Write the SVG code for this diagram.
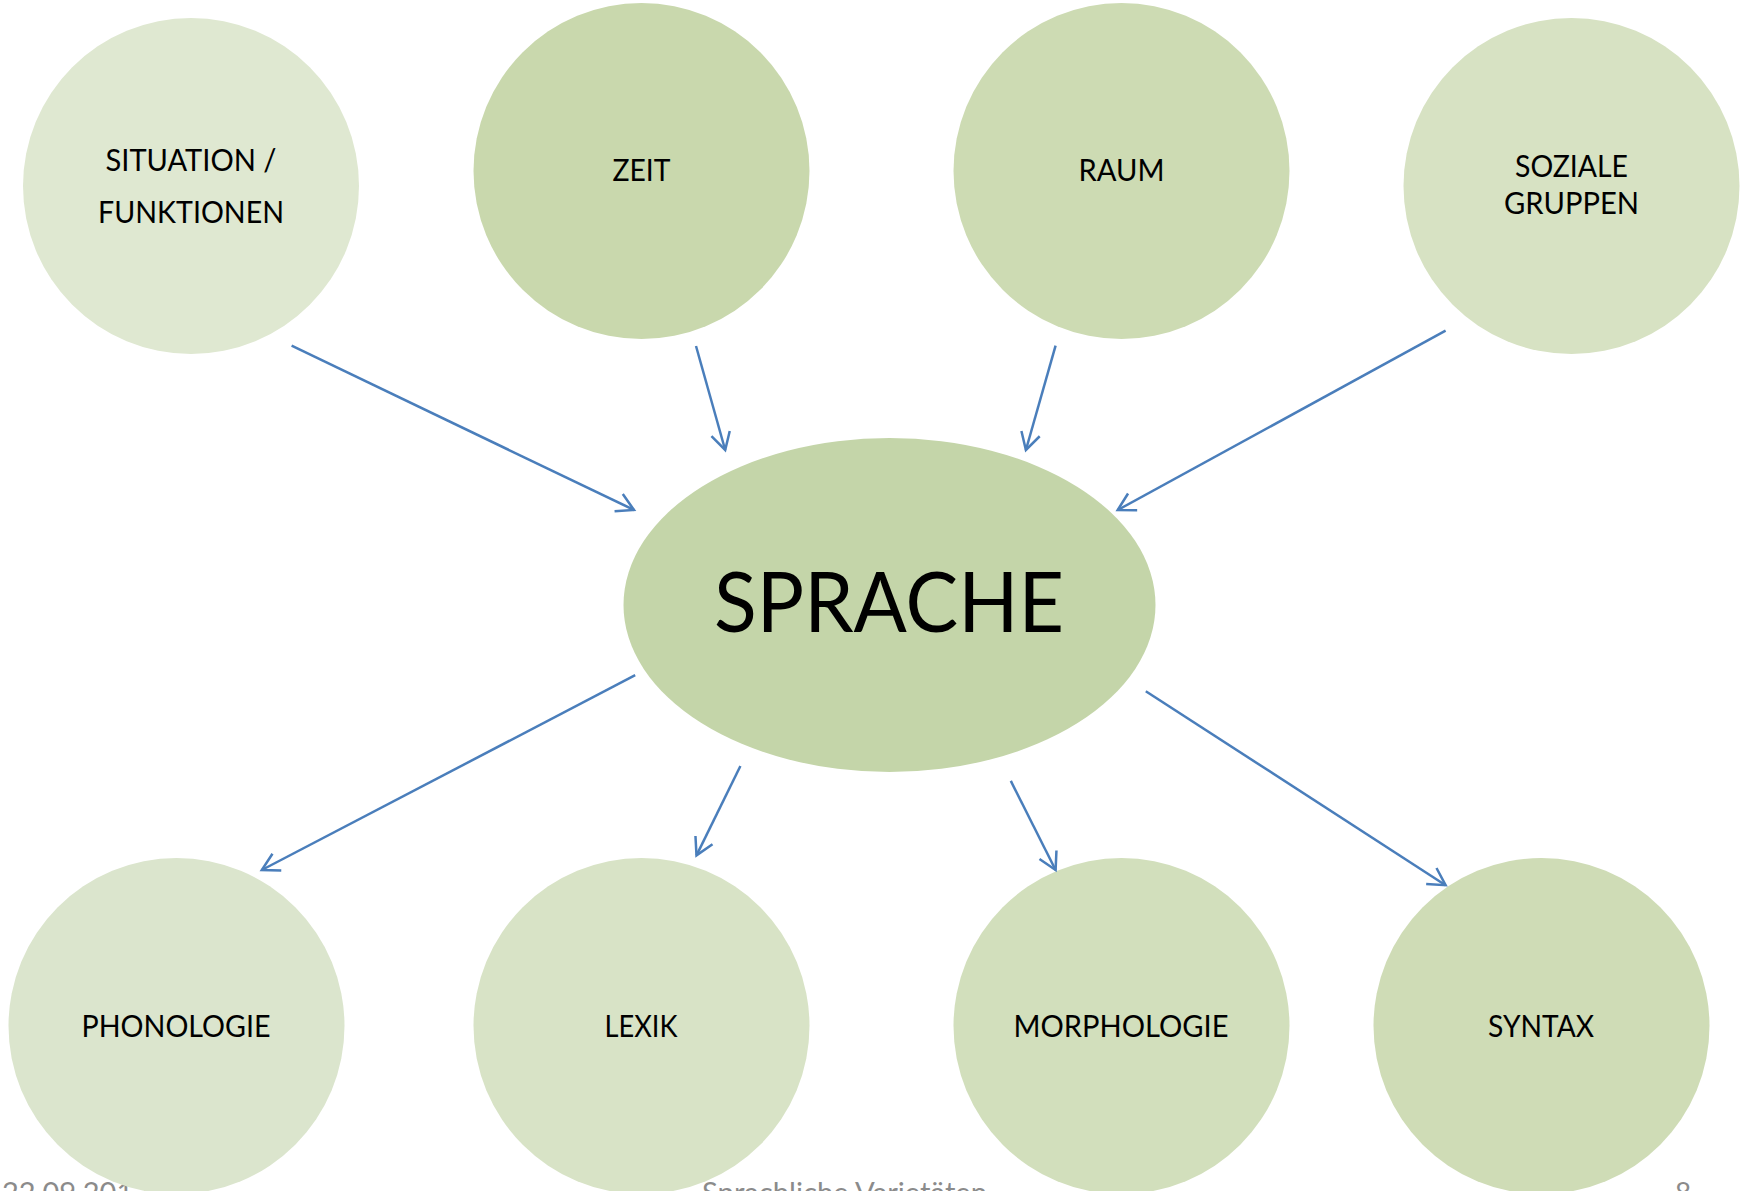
<svg xmlns="http://www.w3.org/2000/svg" width="1747" height="1191" viewBox="0 0 1747 1191">
<style>
.lbl{font-family:Lato,"Open Sans","Liberation Sans",sans-serif;font-size:30px;fill:#000;text-anchor:middle}
.big{font-family:Lato,"Open Sans","Liberation Sans",sans-serif;font-size:83px;fill:#000;text-anchor:middle}
.foot{font-family:Lato,"Open Sans","Liberation Sans",sans-serif;font-size:28px;fill:#8b8b8b}
.conn line{stroke:#4a7ebb;stroke-width:2.5;fill:none;marker-end:url(#arr)}
</style>
<defs>
<marker id="arr" markerUnits="userSpaceOnUse" viewBox="-20 -12 24 24" refX="0" refY="0" markerWidth="24" markerHeight="24" orient="auto">
<path d="M -17 -9.5 L 0 0 L -17 9.5" fill="none" stroke="#4a7ebb" stroke-width="2.5" stroke-linejoin="miter"/>
</marker>
</defs>
<rect width="1747" height="1191" fill="#fff"/>
<g id="footer">
<text class="foot" x="2" y="1203" textLength="148" lengthAdjust="spacingAndGlyphs">22.09.2012</text>
<text class="foot" x="702" y="1203" textLength="285" lengthAdjust="spacingAndGlyphs">Sprachliche Varietäten</text>
<text class="foot" x="1675" y="1203">8</text>
</g>
<g id="situation">
<circle cx="191" cy="186" r="168" fill="#dfe8d1"/>
<text class="lbl" x="191" y="171" textLength="171" lengthAdjust="spacingAndGlyphs">SITUATION /</text>
<text class="lbl" x="191" y="223" textLength="186" lengthAdjust="spacingAndGlyphs">FUNKTIONEN</text>
</g>
<g id="zeit">
<circle cx="641.5" cy="171" r="168" fill="#c9d8ad"/>
<text class="lbl" x="641.5" y="181" textLength="58" lengthAdjust="spacingAndGlyphs">ZEIT</text>
</g>
<g id="raum">
<circle cx="1121.5" cy="171" r="168" fill="#cddbb3"/>
<text class="lbl" x="1121.5" y="181" textLength="86" lengthAdjust="spacingAndGlyphs">RAUM</text>
</g>
<g id="soziale">
<circle cx="1571.5" cy="186" r="168" fill="#d7e2c3"/>
<text class="lbl" x="1571.5" y="177" textLength="113" lengthAdjust="spacingAndGlyphs">SOZIALE</text>
<text class="lbl" x="1571.5" y="214" textLength="135" lengthAdjust="spacingAndGlyphs">GRUPPEN</text>
</g>
<g id="sprache">
<ellipse cx="889.5" cy="605" rx="266" ry="167" fill="#c4d5a9"/>
<text class="big" x="889" y="632" textLength="350" lengthAdjust="spacingAndGlyphs">SPRACHE</text>
</g>
<g id="phonologie">
<circle cx="176.5" cy="1026" r="168" fill="#dbe5cd"/>
<text class="lbl" x="176" y="1037" textLength="189" lengthAdjust="spacingAndGlyphs">PHONOLOGIE</text>
</g>
<g id="lexik">
<circle cx="641.5" cy="1026" r="168" fill="#d8e3c6"/>
<text class="lbl" x="641" y="1037" textLength="73" lengthAdjust="spacingAndGlyphs">LEXIK</text>
</g>
<g id="morphologie">
<circle cx="1121.5" cy="1026" r="168" fill="#d2dfbc"/>
<text class="lbl" x="1121" y="1037" textLength="215" lengthAdjust="spacingAndGlyphs">MORPHOLOGIE</text>
</g>
<g id="syntax">
<circle cx="1541.5" cy="1026" r="168" fill="#cfdcb6"/>
<text class="lbl" x="1541" y="1037" textLength="106" lengthAdjust="spacingAndGlyphs">SYNTAX</text>
</g>
<g id="connectors" class="conn">
<line x1="291.6" y1="345.7" x2="634" y2="510"/>
<line x1="696" y1="346" x2="725.2" y2="450"/>
<line x1="1055.6" y1="345.7" x2="1025.9" y2="450"/>
<line x1="1445.6" y1="330.7" x2="1117.7" y2="510"/>
<line x1="635.2" y1="675.2" x2="261.8" y2="870"/>
<line x1="740.4" y1="766" x2="696.5" y2="855.4"/>
<line x1="1010.8" y1="780.9" x2="1055.6" y2="870"/>
<line x1="1145.8" y1="691.2" x2="1445.6" y2="885.2"/>
</g>
</svg>
